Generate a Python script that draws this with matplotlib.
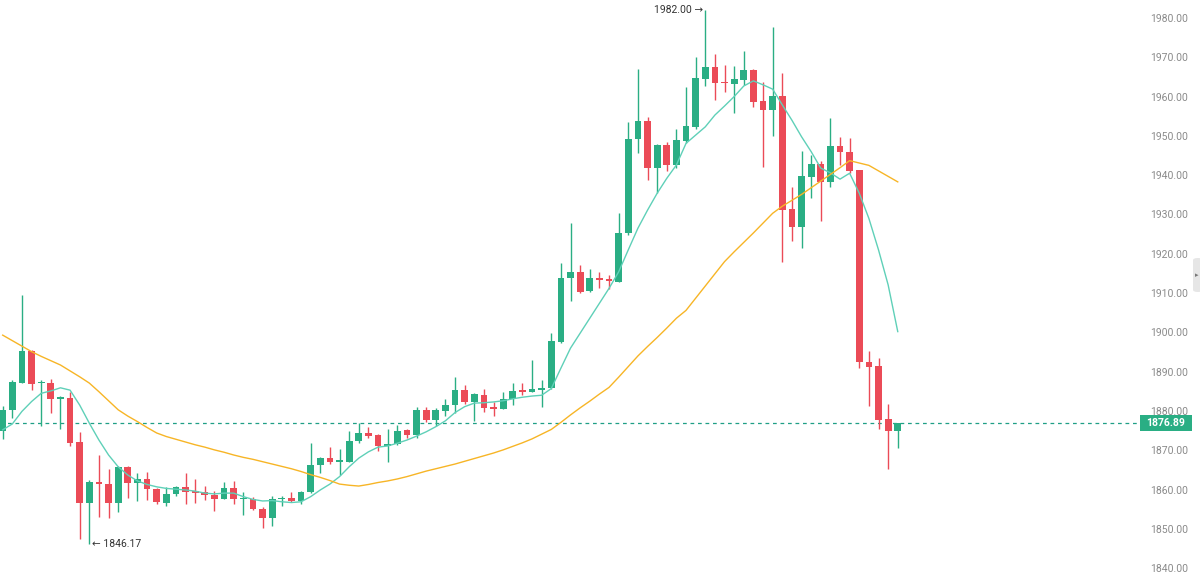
import matplotlib.pyplot as plt
from matplotlib.patches import Rectangle, FancyBboxPatch
from matplotlib.transforms import blended_transform_factory
import numpy as np

# candles (oldest first)
opens = [1875.0, 1880.3, 1887.2, 1895.3, 1887.0, 1887.0, 1883.0, 1883.2, 1872.0, 1856.7,
         1862.0, 1861.3, 1856.7, 1865.8, 1861.8, 1862.8, 1860.1, 1856.7, 1858.9, 1860.7,
         1859.6, 1859.3, 1858.7, 1857.7, 1860.4, 1857.5, 1857.7, 1855.1, 1852.7, 1857.5,
         1857.8, 1857.0, 1859.4, 1866.3, 1868.0, 1867.1, 1867.1, 1872.4, 1874.5, 1873.8,
         1871.2, 1871.6, 1875.1, 1873.8, 1880.3, 1877.7, 1880.1, 1881.4, 1885.3, 1882.3,
         1884.1, 1881.0, 1880.6, 1883.0, 1885.3, 1884.9, 1885.3, 1885.8, 1897.6, 1913.8,
         1915.4, 1910.6, 1913.8, 1913.5, 1912.9, 1925.2, 1949.1, 1953.9, 1941.8, 1947.6,
         1942.6, 1948.8, 1952.3, 1964.5, 1967.6, 1963.8, 1963.3, 1964.3, 1966.8, 1958.9,
         1956.5, 1960.2, 1931.3, 1926.7, 1939.6, 1942.9, 1938.2, 1947.5, 1946.0, 1941.3,
         1892.5, 1891.4, 1878.0, 1874.9]
highs = [1881.3, 1887.8, 1909.5, 1895.6, 1888.0, 1888.1, 1883.8, 1884.8, 1874.7, 1862.4,
         1868.8, 1865.2, 1866.0, 1866.0, 1864.1, 1864.4, 1860.3, 1860.6, 1861.0, 1864.1,
         1862.8, 1860.9, 1859.7, 1862.0, 1862.2, 1859.3, 1858.0, 1855.5, 1858.4, 1858.4,
         1859.4, 1859.6, 1871.8, 1868.3, 1870.8, 1870.3, 1874.8, 1876.9, 1876.0, 1874.2,
         1875.3, 1876.4, 1875.5, 1880.9, 1880.9, 1880.8, 1883.1, 1888.7, 1886.6, 1884.5,
         1885.5, 1882.4, 1884.9, 1887.0, 1887.0, 1893.0, 1887.9, 1899.9, 1917.6, 1927.9,
         1917.1, 1916.2, 1915.3, 1914.6, 1930.5, 1953.6, 1966.9, 1954.7, 1948.0, 1948.5,
         1951.7, 1962.4, 1970.0, 1982.0, 1970.8, 1968.0, 1967.9, 1971.7, 1967.0, 1963.8,
         1977.6, 1965.9, 1937.1, 1946.2, 1945.1, 1943.7, 1954.5, 1949.8, 1949.5, 1941.4,
         1895.3, 1893.4, 1881.8, 1876.9]
lows = [1872.8, 1878.1, 1887.0, 1885.3, 1876.2, 1879.4, 1875.5, 1871.2, 1847.4, 1846.17,
        1853.1, 1852.7, 1854.4, 1857.8, 1857.2, 1857.4, 1856.3, 1855.8, 1858.4, 1856.3,
        1856.7, 1857.4, 1854.5, 1857.5, 1856.3, 1853.5, 1854.9, 1850.3, 1850.8, 1855.9,
        1856.8, 1856.3, 1859.2, 1864.1, 1866.5, 1863.7, 1866.9, 1871.8, 1873.2, 1869.9,
        1867.0, 1871.4, 1873.1, 1873.2, 1877.2, 1876.2, 1878.6, 1879.4, 1881.8, 1877.5,
        1879.8, 1878.6, 1880.4, 1881.4, 1884.1, 1884.8, 1880.9, 1885.6, 1897.2, 1908.1,
        1910.0, 1910.4, 1911.2, 1911.0, 1912.8, 1924.9, 1945.6, 1938.8, 1935.5, 1941.1,
        1941.8, 1948.1, 1951.7, 1962.7, 1959.1, 1961.2, 1955.7, 1963.0, 1957.3, 1942.0,
        1950.0, 1918.0, 1923.3, 1921.6, 1934.3, 1928.3, 1937.1, 1942.6, 1940.5, 1890.9,
        1881.3, 1875.3, 1865.2, 1870.5]
closes = [1880.3, 1887.4, 1895.3, 1886.9, 1887.4, 1883.0, 1883.5, 1871.8, 1856.7, 1862.0,
          1861.3, 1856.7, 1865.8, 1861.8, 1862.8, 1860.1, 1856.8, 1858.9, 1860.7, 1859.4,
          1859.2, 1858.5, 1857.7, 1860.4, 1857.5, 1857.9, 1855.1, 1852.7, 1857.6, 1857.9,
          1857.0, 1859.4, 1866.3, 1868.0, 1867.1, 1867.5, 1872.4, 1874.5, 1873.6, 1871.1,
          1871.6, 1875.0, 1874.0, 1880.3, 1877.7, 1880.3, 1881.4, 1885.3, 1882.3, 1884.2,
          1880.8, 1880.6, 1883.0, 1885.2, 1884.8, 1885.5, 1885.8, 1897.8, 1913.8, 1915.4,
          1910.4, 1913.8, 1913.3, 1913.1, 1925.2, 1949.1, 1953.9, 1941.8, 1947.6, 1942.6,
          1949.0, 1952.6, 1964.7, 1967.6, 1963.5, 1963.4, 1964.5, 1966.8, 1958.7, 1956.5,
          1960.2, 1931.1, 1926.7, 1939.8, 1942.9, 1938.2, 1947.4, 1945.9, 1941.1, 1892.4,
          1891.3, 1877.7, 1874.9, 1876.89]

# moving average lines at each candle
ma_fast = [1875.2, 1876.7, 1879.9, 1882.4, 1884.5, 1885.1, 1885.9, 1885.3, 1881.5, 1876.9,
           1872.6, 1868.8, 1865.8, 1863.7, 1862.2, 1861.3, 1860.7, 1860.3, 1860.1, 1859.9,
           1859.6, 1859.1, 1858.9, 1859.1, 1859.1, 1858.2, 1857.5, 1857.1, 1857.2, 1856.9,
           1856.7, 1856.9, 1858.2, 1859.9, 1861.4, 1863.3, 1865.8, 1868.0, 1869.6, 1870.8,
           1871.1, 1871.8, 1872.6, 1873.6, 1874.7, 1876.0, 1877.5, 1879.6, 1881.1, 1882.0,
           1882.1, 1882.3, 1882.6, 1883.1, 1883.5, 1883.8, 1884.0, 1885.7, 1890.9, 1896.0,
           1899.8, 1903.6, 1907.4, 1911.2, 1915.4, 1921.0, 1926.5, 1931.1, 1935.4, 1939.2,
           1942.6, 1948.1, 1950.2, 1952.3, 1955.3, 1957.6, 1960.0, 1962.7, 1964.0, 1963.0,
           1961.9, 1957.9, 1954.0, 1949.8, 1946.0, 1941.8, 1940.6, 1939.0, 1940.5, 1935.4,
           1929.0, 1921.0, 1912.1, 1900.2]
ma_slow = [1899.3, 1897.9, 1896.5, 1895.1, 1893.9, 1892.8, 1891.7, 1890.2, 1888.7, 1887.1,
           1884.9, 1882.6, 1880.3, 1878.7, 1877.3, 1875.8, 1874.4, 1873.5, 1872.8, 1872.1,
           1871.4, 1870.8, 1870.1, 1869.5, 1868.8, 1868.2, 1867.7, 1867.1, 1866.5, 1865.9,
           1865.3, 1864.6, 1863.8, 1863.1, 1862.3, 1861.4, 1861.1, 1860.9, 1861.3, 1861.8,
           1862.2, 1862.7, 1863.3, 1864.0, 1864.7, 1865.3, 1865.9, 1866.5, 1867.2, 1867.9,
           1868.6, 1869.3, 1870.1, 1871.0, 1871.9, 1872.9, 1874.1, 1875.3, 1877.1, 1879.0,
           1880.8, 1882.5, 1884.3, 1886.0, 1888.6, 1891.3, 1894.0, 1896.4, 1898.7, 1901.1,
           1903.6, 1905.6, 1908.7, 1911.8, 1914.9, 1918.0, 1920.5, 1922.9, 1925.3, 1927.8,
           1930.3, 1932.1, 1933.6, 1935.1, 1936.8, 1938.5, 1940.2, 1941.9, 1943.7, 1943.1,
           1942.5, 1941.1, 1939.7, 1938.3]

last_price = 1876.89
price_ticks = list(range(1840, 1990, 10))

GREEN = '#2aae84'
RED = '#eb4b57'
FONT = ['Roboto', 'DejaVu Sans']


def main():
    W, H = 1200, 578
    fig = plt.figure(figsize=(W / 100, H / 100), dpi=100)
    fig.patch.set_facecolor('white')
    ax = fig.add_axes([0, 0, 1140 / W, 1])
    ax.set_facecolor('white')

    n = len(closes)
    x = np.arange(n)
    o = np.array(opens)
    c = np.array(closes)
    up = c >= o
    colors = np.where(up, GREEN, RED)

    # wicks then bodies
    ax.vlines(x, lows, highs, colors=colors, linewidth=1.0, zorder=2)
    bottom = np.minimum(o, c)
    height = np.maximum(np.abs(c - o), 0.35)
    ax.bar(x, height, bottom=bottom, width=0.7, color=colors, linewidth=0, zorder=3)

    # moving averages
    ax.plot(x, ma_fast, color='#5fd0b8', linewidth=1.0, zorder=4)
    ax.plot(x, ma_slow, color='#f7b526', linewidth=1.0, zorder=4)

    # last price line
    ax.axhline(last_price, color='#1f9f86', linewidth=0.9, linestyle=(0, (3, 3)), zorder=1)

    # high / low markers
    hi = int(np.argmax(highs))
    lo = int(np.argmin(lows))
    ax.annotate(f'{highs[hi]:.2f} \u2192', xy=(hi, highs[hi]), xytext=(-2, 0),
                textcoords='offset pixels', ha='right', va='center',
                fontsize=7.5, color='#333333', family=FONT)
    ax.annotate(f'\u2190 {lows[lo]:.2f}', xy=(lo, lows[lo]), xytext=(3, 0),
                textcoords='offset pixels', ha='left', va='center',
                fontsize=7.5, color='#333333', family=FONT)

    ax.set_xlim(-0.28, 118.17)
    ax.set_ylim(1837.5, 1984.58)
    ax.set_xticks([])
    ax.yaxis.tick_right()
    ax.set_yticks(price_ticks)
    ax.set_yticklabels([f'{p:.2f}' for p in price_ticks])
    ax.tick_params(axis='y', length=0, pad=7, labelsize=7.5, labelcolor='#8a8a8a')
    for lab in ax.get_yticklabels():
        lab.set_family(FONT)
    for s in ax.spines.values():
        s.set_visible(False)

    # price tag on the axis
    tr = blended_transform_factory(fig.transFigure, ax.transData)
    px = (ax.get_ylim()[1] - ax.get_ylim()[0]) / H
    ax.add_patch(Rectangle((1140 / W, last_price - 8 * px), 52 / W, 16 * px,
                           transform=tr, facecolor=GREEN, edgecolor='none',
                           clip_on=False, zorder=5))
    ax.text(1166 / W, last_price, f'{last_price:.2f}', transform=tr, ha='center',
            va='center', color='white', fontsize=7.5, fontweight='bold',
            family=FONT, clip_on=False, zorder=6)

    # small collapse tab at the right edge
    fig.patches.append(FancyBboxPatch((1193 / W, 1 - 292 / H), 10 / W, 34 / H,
                                      boxstyle='round,pad=0,rounding_size=0.004',
                                      transform=fig.transFigure, facecolor='#e6e6e6',
                                      edgecolor='none'))
    fig.text(1196.5 / W, 1 - 275 / H, '\u25b8', ha='center', va='center',
             fontsize=5, color='#777777', family=['DejaVu Sans'])

    fig.savefig('out.png', dpi=100, facecolor='white')


if __name__ == '__main__':
    main()
